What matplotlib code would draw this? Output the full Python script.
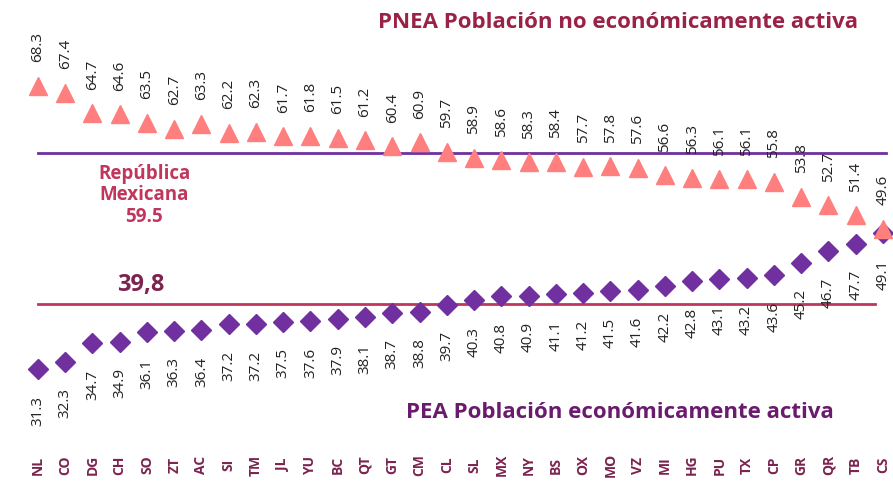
import matplotlib.pyplot as plt
import matplotlib.transforms as mtransforms

plt.rcParams["font.family"] = ["Open Sans", "DejaVu Sans"]

estados = ["NL", "CO", "DG", "CH", "SO", "ZT", "AC", "SI", "TM", "JL", "YU", "BC",
           "QT", "GT", "CM", "CL", "SL", "MX", "NY", "BS", "OX", "MO", "VZ", "MI",
           "HG", "PU", "TX", "CP", "GR", "QR", "TB", "CS"]
pnea = [68.3, 67.4, 64.7, 64.6, 63.5, 62.7, 63.3, 62.2, 62.3, 61.7, 61.8, 61.5,
        61.2, 60.4, 60.9, 59.7, 58.9, 58.6, 58.3, 58.4, 57.7, 57.8, 57.6, 56.6,
        56.3, 56.1, 56.1, 55.8, 53.8, 52.7, 51.4, 49.6]
pea = [31.3, 32.3, 34.7, 34.9, 36.1, 36.3, 36.4, 37.2, 37.2, 37.5, 37.6, 37.9,
       38.1, 38.7, 38.8, 39.7, 40.3, 40.8, 40.9, 41.1, 41.2, 41.5, 41.6, 42.2,
       42.8, 43.1, 43.2, 43.6, 45.2, 46.7, 47.7, 49.1]
pnea_nacional = 59.5
pea_nacional = 39.8

x = list(range(len(estados)))

fig = plt.figure(figsize=(8.93, 4.88), dpi=100)
ax = fig.add_axes([0, 0, 1, 1])
ax.set_xlim(-1.39, 31.37)
ax.set_ylim(15.8, 79.5)
ax.axis("off")

# lineas de referencia nacionales
ax.plot([0, 31.1], [pnea_nacional] * 2, color="#7030A0", lw=2, zorder=1)
ax.plot([0, 30.7], [pea_nacional] * 2, color="#C0365C", lw=2, zorder=1)

ax.plot(x, pea, "D", color="#7030A0", markersize=10, zorder=2)
ax.plot(x, pnea, "^", color="#FF7F7F", markersize=13, zorder=3)

for i in x:
    ax.annotate(f"{pnea[i]:.1f}", (i, pnea[i]), xytext=(0, 17), textcoords="offset points",
                rotation=90, ha="center", va="bottom", fontsize=11, color="#222222")
    ax.annotate(f"{pea[i]:.1f}", (i, pea[i]), xytext=(0, -19), textcoords="offset points",
                rotation=90, ha="center", va="top", fontsize=11, color="#222222")

trans = mtransforms.blended_transform_factory(ax.transData, ax.transAxes)
for i, e in enumerate(estados):
    ax.text(i, 0.047, e, transform=trans, rotation=90, ha="center", va="center",
            fontsize=10, fontweight="bold", color="#7B2450")

ax.text(618 / 893, 1 - 22 / 488, "PNEA Población no económicamente activa",
        transform=ax.transAxes, ha="center", va="center", fontsize=16,
        fontweight="bold", color="#9B2247")
ax.text(620 / 893, 1 - 412 / 488, "PEA Población económicamente activa",
        transform=ax.transAxes, ha="center", va="center", fontsize=16,
        fontweight="bold", color="#6A1B6E")
ax.text(144 / 893, 1 - 195 / 488, "República\nMexicana\n59.5",
        transform=ax.transAxes, ha="center", va="center", fontsize=13.5,
        fontweight="bold", color="#C0365C", linespacing=1.1)
ax.text(141 / 893, 1 - 285 / 488, "39,8", transform=ax.transAxes, ha="center",
        va="center", fontsize=17, fontweight="bold", color="#7B2450")

fig.savefig("out.png", dpi=100)
plt.close(fig)
